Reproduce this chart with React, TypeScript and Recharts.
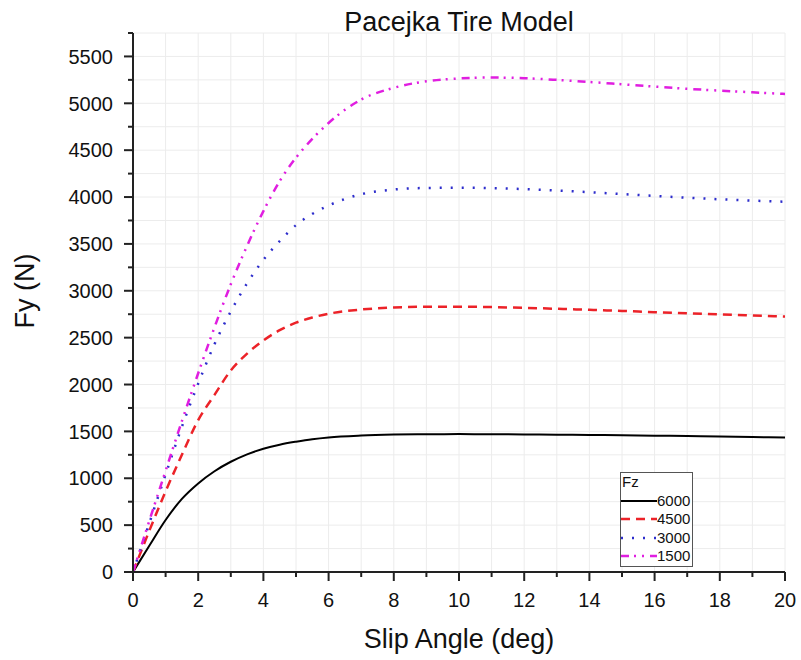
import { LineChart, Line, XAxis, YAxis, CartesianGrid, Legend } from 'recharts';

// slip angle (deg) and lateral force Fy (N) for each vertical load Fz
const slipAngles = [0, 0.5, 1, 1.5, 2, 2.5, 3, 3.5, 4, 4.5, 5, 5.5, 6, 7, 8, 9, 10, 11, 12, 13, 14, 15, 16, 17, 18, 19, 20];
const fy6000 = [0, 280, 555, 780, 945, 1075, 1176, 1255, 1315, 1358, 1390, 1417, 1436, 1456, 1466, 1470, 1471, 1470, 1468, 1465, 1462, 1458, 1454, 1450, 1445, 1440, 1435];
const fy4500 = [0, 440, 860, 1250, 1620, 1890, 2150, 2330, 2470, 2580, 2660, 2715, 2755, 2800, 2822, 2830, 2830, 2826, 2818, 2808, 2797, 2785, 2772, 2760, 2748, 2736, 2725];
const fy3000 = [0, 520, 1040, 1550, 2010, 2430, 2780, 3080, 3330, 3530, 3700, 3820, 3910, 4030, 4080, 4097, 4100, 4095, 4085, 4070, 4052, 4032, 4012, 3993, 3976, 3962, 3950];
const fy1500 = [0, 545, 1080, 1610, 2120, 2610, 3070, 3480, 3850, 4170, 4420, 4620, 4790, 5040, 5165, 5235, 5265, 5275, 5268, 5250, 5228, 5203, 5178, 5155, 5135, 5117, 5100];

const xTicks = Array.from({ length: 21 }, (_, i) => i);
const yTicks = Array.from({ length: 24 }, (_, i) => i * 250);

const data = slipAngles.map((x, i) => ({
  x,
  fz6000: fy6000[i],
  fz4500: fy4500[i],
  fz3000: fy3000[i],
  fz1500: fy1500[i],
}));

const series = [
  { key: 'fz6000', name: '6000', color: '#000000', dash: undefined, width: 2 },
  { key: 'fz4500', name: '4500', color: '#ec2228', dash: '9 6', width: 2.5 },
  { key: 'fz3000', name: '3000', color: '#2d2dcc', dash: '2 9', width: 2.5 },
  { key: 'fz1500', name: '1500', color: '#e01ee0', dash: '8 5 2 6 2 6', width: 2.5 },
];

const FONT = '"Liberation Sans", Arial, Helvetica, sans-serif';
const AXIS = '#222';

function YTick({ x, y, payload }: any) {
  const major = payload.value % 500 === 0;
  return (
    <g>
      <line x1={x} x2={x - (major ? 9 : 5)} y1={y} y2={y} stroke={AXIS} strokeWidth={2} />
      {major && (
        <text x={x - 20} y={y} dy="0.36em" textAnchor="end" fontSize={20} fill="#111">
          {payload.value}
        </text>
      )}
    </g>
  );
}

function XTick({ x, y, payload }: any) {
  const major = payload.value % 2 === 0;
  return (
    <g>
      <line x1={x} x2={x} y1={y} y2={y + (major ? 9 : 5)} stroke={AXIS} strokeWidth={2} />
      {major && (
        <text x={x} y={y + 35} textAnchor="middle" fontSize={20} fill="#111">
          {payload.value}
        </text>
      )}
    </g>
  );
}

function FzLegend() {
  return (
    <div
      style={{
        border: '1px solid #555',
        background: '#fff',
        width: 71,
        fontSize: 15,
        lineHeight: '18.5px',
        color: '#111',
        fontFamily: FONT,
      }}
    >
      <div style={{ paddingLeft: 1 }}>Fz</div>
      {series.map((s) => (
        <div key={s.key} style={{ display: 'flex', alignItems: 'center', height: 18.5 }}>
          <svg width={36} height={18} style={{ display: 'block' }}>
            <line x1={0} x2={36} y1={9} y2={9} stroke={s.color} strokeWidth={s.width} strokeDasharray={s.dash} />
          </svg>
          <span>{s.name}</span>
        </div>
      ))}
    </div>
  );
}

export default function App() {
  return (
    <div style={{ position: 'absolute', left: 0, top: 0, fontFamily: FONT, background: '#fff' }}>
      <LineChart width={801} height={660} data={data} margin={{ top: 33, right: 16, left: 0, bottom: 0 }}>
        <CartesianGrid stroke="#ececec" strokeWidth={1} />
        <XAxis
          dataKey="x"
          type="number"
          domain={[0, 20]}
          ticks={xTicks}
          interval={0}
          height={88}
          tickSize={0}
          tickMargin={0}
          tickLine={false}
          axisLine={{ stroke: AXIS, strokeWidth: 2 }}
          tick={<XTick />}
          label={{
            content: ({ viewBox }: any) => (
              <text x={viewBox.x + viewBox.width / 2} y={648} textAnchor="middle" fontSize={27} fill="#111">
                Slip Angle (deg)
              </text>
            ),
          }}
        />
        <YAxis
          type="number"
          domain={[0, 5750]}
          ticks={yTicks}
          interval={0}
          width={133}
          tickSize={0}
          tickMargin={0}
          tickLine={false}
          axisLine={{ stroke: AXIS, strokeWidth: 2 }}
          tick={<YTick />}
          label={{
            content: () => (
              <text x={34} y={291} transform="rotate(-90, 34, 291)" textAnchor="middle" fontSize={27} fill="#111">
                Fy (N)
              </text>
            ),
          }}
        />
        {series.map((s) => (
          <Line
            key={s.key}
            type="monotone"
            dataKey={s.key}
            name={s.name}
            stroke={s.color}
            strokeWidth={s.width}
            strokeDasharray={s.dash}
            dot={false}
            activeDot={false}
            isAnimationActive={false}
          />
        ))}
        <Legend
          layout="horizontal"
          verticalAlign="middle"
          align="center"
          content={() => <FzLegend />}
          wrapperStyle={{ left: 620, top: 472, width: 'auto', height: 'auto' }}
        />
        <text x={459} y={31} textAnchor="middle" fontSize={27} fill="#111">
          Pacejka Tire Model
        </text>
      </LineChart>
    </div>
  );
}
